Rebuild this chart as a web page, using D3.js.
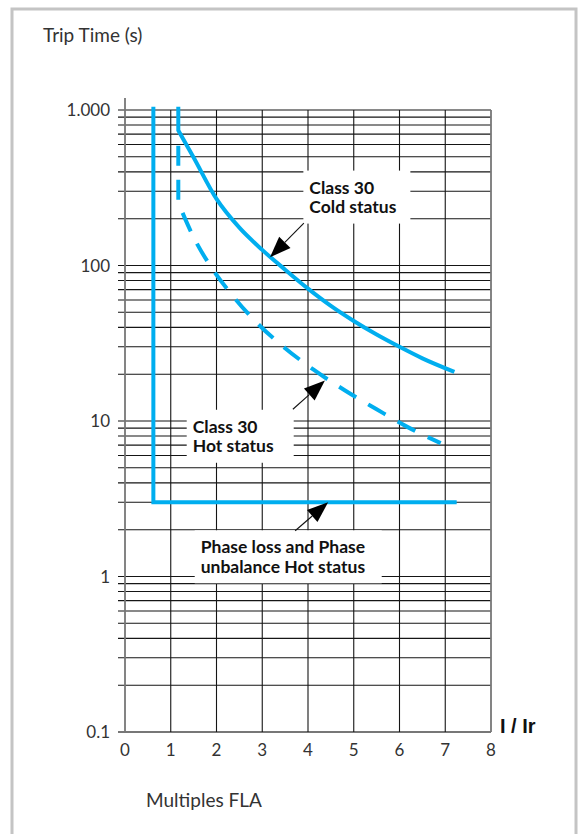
<!DOCTYPE html>
<html lang="en">
<head>
<meta charset="UTF-8">
<title>Trip Time</title>
<style>
  body { margin: 0; background: #fff; }
  svg text { font-family: Lato, "Noto Sans", sans-serif; }
</style>
</head>
<body>
<script src="https://d3js.org/d3.v7.min.js"></script>
<script>
// axis ticks
const xTicks = [0, 1, 2, 3, 4, 5, 6, 7, 8]
const yDecades = [0.1, 1, 10, 100, 1000]
const yTickLabels = ["0.1", "1", "10", "100", "1.000"]

// phase loss and phase unbalance, hot status
const phaseX = [0.62, 0.62, 7.25]
const phaseT = [1050, 3, 3]

// class 30, cold status (solid)
const coldX = [1.165, 1.165, 1.5, 2, 2.5, 3, 3.5, 4, 4.5, 5, 5.5, 6, 6.5, 7.2]
const coldT = [1050, 740, 495, 268, 175, 126, 94, 71, 55, 44, 36, 30, 25.3, 20.7]

// class 30, hot status (dashed)
const hotX = [1.165, 1.165, 1.31, 1.5, 1.9, 2.37, 2.91, 3.5, 4.13, 4.81, 5.5, 6.16, 6.9]
const hotT = [590, 254, 201, 152, 96, 63, 42, 29.4, 21.3, 15.7, 11.9, 9.2, 7.2]

// callouts: text anchor and arrow in data units
const callouts = [
  { lines: ["Class 30", "Cold status"], x: 4.03, t: 290, boxW: 107,
    tailX: 3.91, tailT: 187, tipX: 3.17, tipT: 113 },
  { lines: ["Class 30", "Hot status"], x: 1.48, t: 8.4, boxW: 107,
    tailX: 3.67, tailT: 11.9, tipX: 4.37, tipT: 18.2 },
  { lines: ["Phase loss and Phase", "unbalance Hot status"], x: 1.655, t: 1.41, boxW: 187,
    tailX: 3.72, tailT: 1.97, tipX: 4.44, tipT: 3 }
]

const width = 586
const height = 834
const blue = "#00aeef"

const svg = d3.select("body").append("svg")
  .attr("width", width)
  .attr("height", height)

// outer frame
svg.append("rect")
  .attr("x", 12).attr("y", 9)
  .attr("width", 564).attr("height", 900)
  .attr("fill", "none")
  .attr("stroke", "#c4c4c4")
  .attr("stroke-width", 3)

const x = d3.scaleLinear().domain([0, 8]).range([125, 491])
const y = d3.scaleLog().domain([0.1, 1000]).range([732, 110])

// horizontal grid (1..9 per decade)
svg.append("g").selectAll("line")
  .data(y.ticks())
  .join("line")
  .attr("x1", x(0) - 7).attr("x2", x(8))
  .attr("y1", d => y(d)).attr("y2", d => y(d))
  .attr("stroke", d => d === 0.1 ? "#777" : "#151515")
  .attr("stroke-width", d => d === 0.1 ? 1.8 : 1.1)

// vertical grid
svg.append("g").selectAll("line")
  .data(xTicks)
  .join("line")
  .attr("x1", d => x(d)).attr("x2", d => x(d))
  .attr("y1", d => d === 0 ? y(1000) - 12 : y(1000))
  .attr("y2", y(0.1))
  .attr("stroke", d => (d === 0 || d === 8) ? "#777" : "#151515")
  .attr("stroke-width", d => (d === 0 || d === 8) ? 1.8 : 1.1)

// y labels
svg.append("g").selectAll("text")
  .data(yDecades)
  .join("text")
  .attr("x", 110)
  .attr("y", d => y(d))
  .attr("dy", "0.36em")
  .attr("text-anchor", "end")
  .attr("font-size", 17)
  .attr("fill", "#333")
  .text((d, i) => yTickLabels[i])

// x labels
svg.append("g").selectAll("text")
  .data(xTicks)
  .join("text")
  .attr("x", d => x(d))
  .attr("y", 756)
  .attr("text-anchor", "middle")
  .attr("font-size", 17)
  .attr("fill", "#333")
  .text(d => d)

svg.append("text")
  .attr("x", 43).attr("y", 42)
  .attr("font-size", 19)
  .attr("fill", "#333")
  .text("Trip Time (s)")

svg.append("text")
  .attr("x", 146).attr("y", 807)
  .attr("font-size", 19)
  .attr("fill", "#333")
  .text("Multiples FLA")

svg.append("text")
  .attr("x", x(8) + 9).attr("y", y(0.1) + 1)
  .attr("font-size", 20)
  .attr("font-weight", "bold")
  .style("font-family", "'Liberation Sans Narrow', 'Liberation Sans', sans-serif")
  .attr("fill", "#111")
  .text("I / Ir")

// white boxes behind callout text
svg.append("g").selectAll("rect")
  .data(callouts)
  .join("rect")
  .attr("x", d => x(d.x) - 6)
  .attr("y", d => y(d.t) - 23)
  .attr("width", d => d.boxW)
  .attr("height", 53)
  .attr("fill", "#fff")

// curves
const toPts = (xs, ts) => xs.map((v, i) => [x(v), y(ts[i])])

function tripPath(xs, ts) {
  // vertical start, then smooth falling curve
  const pts = toPts(xs, ts)
  const head = "M" + pts[0][0] + "," + pts[0][1]
  const rest = d3.line().curve(d3.curveMonotoneX)(pts.slice(1))
  return head + "L" + rest.slice(1)
}

svg.append("path")
  .attr("d", d3.line()(toPts(phaseX, phaseT)))
  .attr("fill", "none")
  .attr("stroke", blue)
  .attr("stroke-width", 4)

svg.append("path")
  .attr("d", tripPath(coldX, coldT))
  .attr("fill", "none")
  .attr("stroke", blue)
  .attr("stroke-width", 4)

svg.append("path")
  .attr("d", tripPath(hotX, hotT))
  .attr("fill", "none")
  .attr("stroke", blue)
  .attr("stroke-width", 4)
  .attr("stroke-dasharray", "20,14")

// arrows
callouts.forEach(c => {
  const tx = x(c.tipX), ty = y(c.tipT)
  const sx = x(c.tailX), sy = y(c.tailT)
  const len = Math.hypot(tx - sx, ty - sy)
  const ux = (tx - sx) / len, uy = (ty - sy) / len
  const bx = tx - ux * 21, by = ty - uy * 21
  const nx = -uy * 8, ny = ux * 8
  svg.append("line")
    .attr("x1", sx).attr("y1", sy)
    .attr("x2", bx).attr("y2", by)
    .attr("stroke", "#111")
    .attr("stroke-width", 1.1)
  svg.append("path")
    .attr("d", "M" + tx + "," + ty + "L" + (bx + nx) + "," + (by + ny) + "L" + (bx - nx) + "," + (by - ny) + "Z")
    .attr("fill", "#000")
})

// callout text, one element per line
callouts.forEach(c => {
  c.lines.forEach((line, i) => {
    svg.append("text")
      .attr("x", x(c.x))
      .attr("y", y(c.t) + i * 19.5)
      .attr("font-size", 17.5)
      .attr("font-weight", "bold")
      .attr("fill", "#111")
      .text(line)
  })
})
</script>
</body>
</html>
